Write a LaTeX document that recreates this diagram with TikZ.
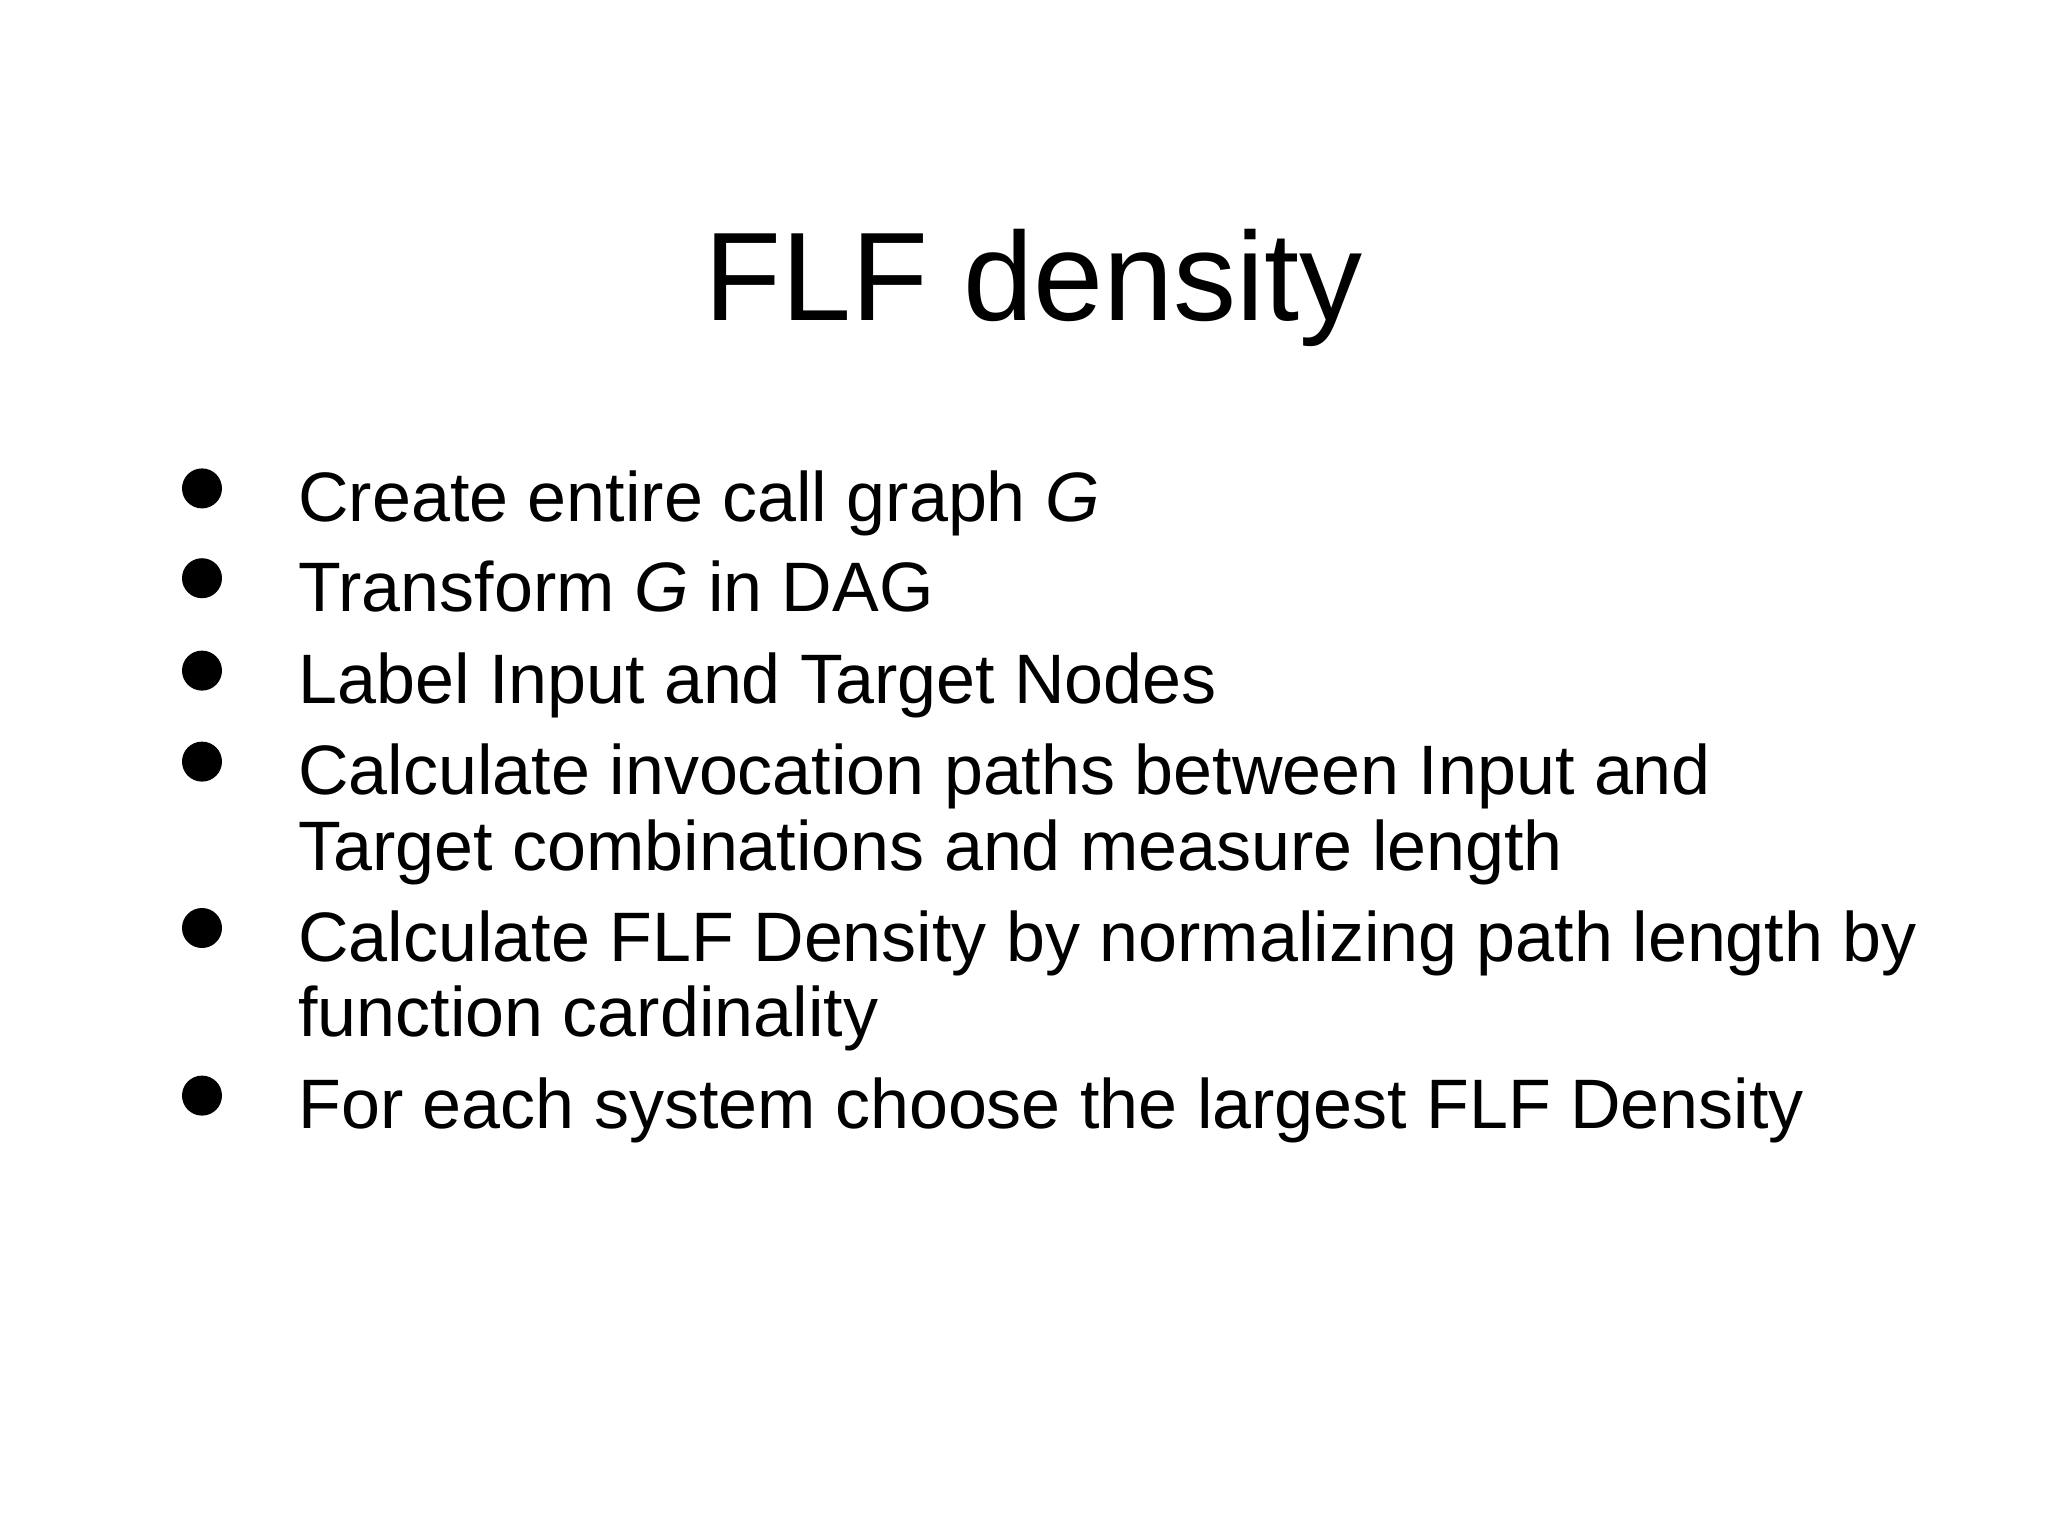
\documentclass[tikz,border=0pt]{standalone}
\usepackage{fontspec}
\setmainfont{Liberation Sans}
\begin{document}
\begin{tikzpicture}[x=1pt,y=1pt,
  txt/.style={anchor=base west,inner sep=0pt,font=\fontsize{35}{42}\selectfont},
  dot/.style={circle,fill=black,minimum size=20pt,inner sep=0pt}]
\useasboundingbox (0,0) rectangle (1024,-768);
\node[anchor=base,inner sep=0pt,font=\fontsize{63}{75}\selectfont] (title) at (517,-160.4) {FLF density};
\foreach \n/\y in {a/260.7,b/305.6,c/351.8,d/397.3,e/480.5,f/564.3}{
  \node[dot] (b\n) at (101,-\y+16.5) {};
}
\node[txt] (l1) at (149,-260.7) {Create entire call graph \textit{G}};
\node[txt] (l2) at (149,-305.6) {Transform \textit{G} in DAG};
\node[txt] (l3) at (149,-351.8) {Label Input and Target Nodes};
\node[txt] (l4) at (149,-397.3) {Calculate invocation paths between Input and};
\node[txt] (l4b) at (149,-435) {Target combinations and measure length};
\node[txt] (l5) at (149,-480.5) {Calculate FLF Density by normalizing path length by};
\node[txt] (l5b) at (149,-518) {function cardinality};
\node[txt] (l6) at (149,-564.3) {For each system choose the largest FLF Density};
\end{tikzpicture}
\end{document}
